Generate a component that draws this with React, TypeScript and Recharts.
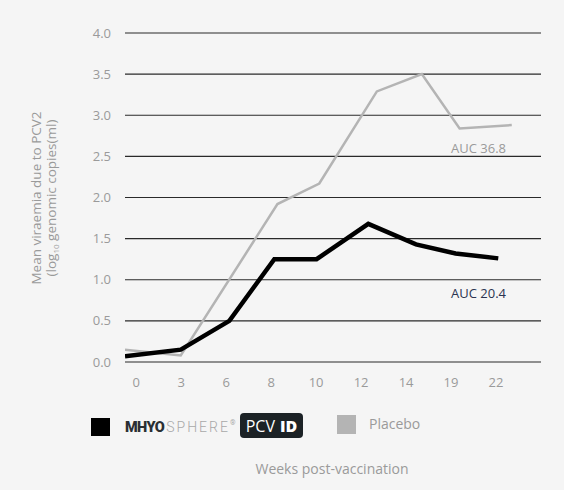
import { LineChart, Line, XAxis, YAxis, CartesianGrid } from 'recharts';

// x positions are in "tick slot" units (0 = first week tick, 1 = second ...)
const weekLabels = ['0', '3', '6', '8', '10', '12', '14', '19', '22'];
const yTicks = [0, 0.5, 1, 1.5, 2, 2.5, 3, 3.5, 4];

const vaccinePos = [-0.25, 0.99, 2.07, 3.07, 4.01, 5.16, 6.22, 7.1, 8.05];
const vaccineVals = [0.07, 0.15, 0.5, 1.25, 1.25, 1.68, 1.43, 1.32, 1.26];

const placeboPos = [-0.25, 0.99, 3.14, 4.07, 5.35, 6.35, 7.19, 8.35];
const placeboVals = [0.15, 0.08, 1.92, 2.17, 3.29, 3.5, 2.84, 2.88];

const vaccineData = vaccinePos.map((x, i) => ({ x, y: vaccineVals[i] }));
const placeboData = placeboPos.map((x, i) => ({ x, y: placeboVals[i] }));

const font = '"Open Sans", "Noto Sans", sans-serif';
const grey = '#9a9a9a';

function App() {
    return (
        <div style={{ position: 'relative', width: 564, height: 490, background: '#f5f5f5', fontFamily: font }}>
            <style>{'body{margin:0;background:#f5f5f5}'}</style>
            <LineChart
                width={564}
                height={490}
                margin={{ top: 33, right: 23, bottom: 98, left: 65 }}
            >
                <CartesianGrid vertical={false} stroke="#2a2a2a" strokeWidth={1.2} />
                <XAxis
                    dataKey="x"
                    type="number"
                    domain={[-0.25, 9]}
                    ticks={weekLabels.map((_, i) => i)}
                    tickFormatter={(v: number) => weekLabels[v] ?? ''}
                    axisLine={false}
                    tickLine={false}
                    tickSize={0}
                    tickMargin={16}
                    height={30}
                    allowDataOverflow
                    tick={{ fill: grey, fontSize: 13, fontFamily: font }}
                />
                <YAxis
                    type="number"
                    domain={[0, 4]}
                    ticks={yTicks}
                    tickFormatter={(v: number) => v.toFixed(1)}
                    axisLine={false}
                    tickLine={false}
                    tickSize={0}
                    tickMargin={14}
                    width={60}
                    tick={{ fill: grey, fontSize: 13, fontFamily: font }}
                />
                <Line
                    data={placeboData}
                    dataKey="y"
                    type="linear"
                    stroke="#b4b4b4"
                    strokeWidth={2.5}
                    dot={false}
                    isAnimationActive={false}
                />
                <Line
                    data={vaccineData}
                    dataKey="y"
                    type="linear"
                    stroke="#000000"
                    strokeWidth={4.5}
                    strokeLinejoin="miter"
                    dot={false}
                    isAnimationActive={false}
                />
            </LineChart>

            {/* y axis title */}
            <div style={{
                position: 'absolute', left: 46, top: 198, transform: 'translate(-50%, -50%) rotate(-90deg)',
                whiteSpace: 'nowrap', textAlign: 'center', color: grey, fontSize: 13.5, lineHeight: '15px'
            }}>
                Mean viraemia due to PCV2<br />
                (log<sub style={{ fontSize: 8 }}>10</sub> genomic copies(ml)
            </div>

            <div style={{ position: 'absolute', left: 451, top: 139, color: grey, fontSize: 13 }}>AUC 36.8</div>
            <div style={{ position: 'absolute', left: 451, top: 284, color: '#2b3450', fontSize: 13 }}>AUC 20.4</div>

            {/* legend */}
            <div style={{ position: 'absolute', left: 91, top: 418, width: 19, height: 18, background: '#000' }} />
            <div style={{ position: 'absolute', left: 125, top: 416, height: 22, display: 'flex', alignItems: 'center', fontFamily: 'Roboto, sans-serif' }}>
                <span style={{ fontWeight: 900, fontSize: 14.5, color: '#2a2f33', letterSpacing: -0.6 }}>MHYO</span>
                <span style={{ fontWeight: 300, fontSize: 14, color: '#a8a8a8', letterSpacing: 2, marginLeft: 2 }}>SPHERE</span>
                <span style={{ fontSize: 7, color: '#a8a8a8', alignSelf: 'flex-start', marginTop: 3 }}>®</span>
            </div>
            <div style={{
                position: 'absolute', left: 240, top: 413, width: 63, height: 25, background: '#1c2226', borderRadius: 4,
                color: '#fff', fontSize: 16, display: 'flex', alignItems: 'center', justifyContent: 'center', gap: 5
            }}>
                <span>PCV</span><span style={{ fontWeight: 800 }}>ID</span>
            </div>
            <div style={{ position: 'absolute', left: 337, top: 415, width: 19, height: 19, background: '#b4b4b4' }} />
            <div style={{ position: 'absolute', left: 369, top: 414, color: grey, fontSize: 14 }}>Placebo</div>

            <div style={{ position: 'absolute', left: 0, width: 564, top: 459, textAlign: 'center', paddingLeft: 100, boxSizing: 'border-box', color: grey, fontSize: 14 }}>
                Weeks post-vaccination
            </div>
        </div>
    );
}

export default App;
